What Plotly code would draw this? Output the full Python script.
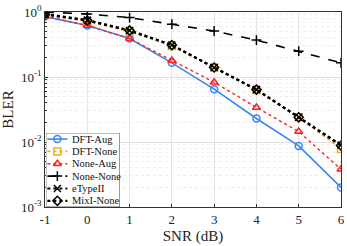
import plotly.graph_objects as go

snr = [-1, 0, 1, 2, 3, 4, 5, 6]
dft_aug = [0.85, 0.62, 0.39, 0.165, 0.065, 0.023, 0.0087, 0.0020]
dft_none = [0.90, 0.72, 0.50, 0.30, 0.14, 0.063, 0.024, 0.0078]
none_aug = [0.86, 0.62, 0.39, 0.18, 0.083, 0.034, 0.0145, 0.0038]
none_none = [1.0, 0.93, 0.82, 0.65, 0.51, 0.37, 0.25, 0.165]
etype2 = [0.93, 0.75, 0.52, 0.31, 0.14, 0.064, 0.024, 0.0090]
mix1_none = [0.92, 0.74, 0.52, 0.31, 0.14, 0.064, 0.024, 0.0088]

names = ["DFT-Aug", "DFT-None", "None-Aug", "None-None", "eTypeII", "MixI-None"]
values = [dft_aug, dft_none, none_aug, none_none, etype2, mix1_none]
colors = ["#3a86f2", "#EDB120", "#ff2020", "#000000", "#000000", "#000000"]
dashes = ["solid", "dot", "dot", "dash", "dot", "dot"]
symbols = ["circle-open", "square-open", "triangle-up-open", "cross-thin-open",
           "x-thin-open", "diamond-open"]
widths = [1.6, 1.6, 1.4, 1.6, 2.2, 2.2]

font = "Liberation Serif, Times New Roman, serif"
fig = go.Figure()
for name, ys, col, dash, sym, w in zip(names, values, colors, dashes, symbols, widths):
    fig.add_trace(go.Scatter(
        x=snr, y=ys, name=name, mode="lines+markers", showlegend=False,
        line=dict(color=col, dash=dash, width=w),
        marker=dict(symbol=sym, size=7, color=col, line=dict(color=col, width=1.5)),
    ))

# custom compact legend drawn on an inset (hidden) axis pair
fig.add_trace(go.Scatter(
    x=[0, 1, 1, 0, 0], y=[0, 0, 1, 1, 0], mode="lines", fill="toself",
    fillcolor="white", line=dict(color="#333", width=0.8),
    xaxis="x2", yaxis="y2", showlegend=False, hoverinfo="skip", cliponaxis=False,
))
n = len(names)
annotations = []
for i, (name, col, dash, sym, w) in enumerate(zip(names, colors, dashes, symbols, widths)):
    yy = 1 - (i + 0.5) / n
    fig.add_trace(go.Scatter(
        x=[0.02, 0.29], y=[yy, yy], mode="lines", xaxis="x2", yaxis="y2",
        showlegend=False, hoverinfo="skip",
        line=dict(color=col, dash=dash, width=w),
    ))
    fig.add_trace(go.Scatter(
        x=[0.155], y=[yy], mode="markers", xaxis="x2", yaxis="y2",
        showlegend=False, hoverinfo="skip",
        marker=dict(symbol=sym, size=7, color=col, line=dict(color=col, width=1.5)),
    ))
    annotations.append(dict(
        x=0.32, y=yy, xref="x2", yref="y2", text=name, showarrow=False,
        xanchor="left", yanchor="middle",
        font=dict(family=font, size=10.5, color="#111"),
    ))

minor_vals = [m * 10 ** e for e in (-3, -2, -1) for m in range(2, 10)]
fig.update_layout(
    width=347, height=246,
    margin=dict(l=45, r=6, t=12, b=39),
    paper_bgcolor="white", plot_bgcolor="white",
    font=dict(family=font, size=13, color="#222"),
    showlegend=False,
    annotations=annotations,
    xaxis=dict(
        title=dict(text="SNR (dB)", font=dict(size=15), standoff=4),
        range=[-1, 6], tickvals=snr, ticktext=[str(v) for v in snr],
        showgrid=True, gridcolor="#e6e6e6", zeroline=False,
        showline=True, linecolor="#333", linewidth=0.8, mirror=True,
        ticks="inside", ticklen=3, tickcolor="#333", automargin=False,
    ),
    yaxis=dict(
        type="log", range=[-3, 0],
        title=dict(text="BLER", font=dict(size=15), standoff=4),
        tickvals=[0.001, 0.01, 0.1, 1],
        ticktext=["10<sup>-3</sup>", "10<sup>-2</sup>", "10<sup>-1</sup>", "10<sup>0</sup>"],
        showgrid=True, gridcolor="#e0e0e0", zeroline=False,
        showline=True, linecolor="#333", linewidth=0.8, mirror=True,
        ticks="inside", ticklen=3, tickcolor="#333", automargin=False,
        minor=dict(tickmode="array", tickvals=minor_vals, showgrid=True,
                   gridcolor="#eeeeee", griddash="dot", ticks="inside", ticklen=2),
    ),
    xaxis2=dict(domain=[0.003, 0.253], anchor="y2", range=[0, 1], visible=False,
                fixedrange=True),
    yaxis2=dict(domain=[0.0, 0.38], anchor="x2", range=[0, 1], visible=False,
                fixedrange=True),
)
fig.write_html("out.html", config={"displayModeBar": False},
               post_script="document.body.style.margin='0';")
